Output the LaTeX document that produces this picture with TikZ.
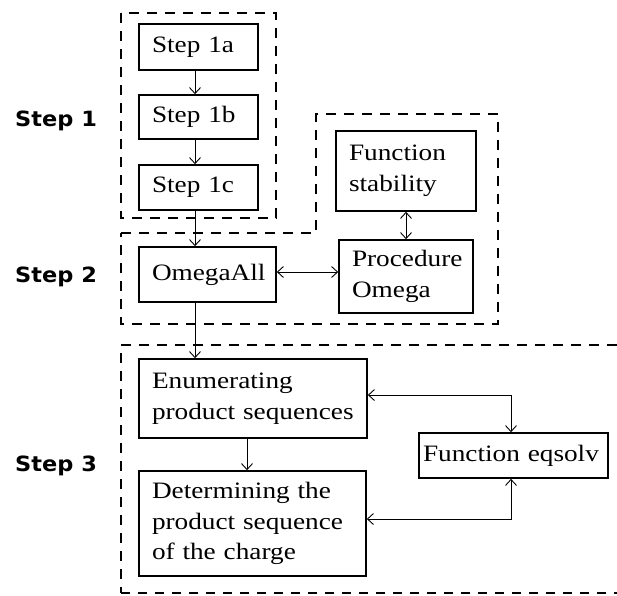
\documentclass[tikz,border=0pt]{standalone}
\usepackage{fontspec}
\usetikzlibrary{arrows.meta,calc}
\newfontfamily\boxfont[FakeStretch=1.16]{Liberation Serif}
\newfontfamily\labfont[FakeStretch=1.07]{DejaVu Sans Bold}
\begin{document}
\begin{tikzpicture}[x=1pt,y=-1pt,
  box/.style={draw, line width=1.6pt, inner xsep=13pt, inner ysep=0pt,
    align=left, font=\boxfont\fontsize{23.5}{30.5}\selectfont},
  steplabel/.style={anchor=base west, inner sep=0pt,
    font=\labfont\fontsize{21}{25}\selectfont},
  region/.style={line width=1.8pt, dash pattern=on 10pt off 8pt},
  thinregion/.style={line width=1.1pt, dash pattern=on 9pt off 8pt},
  arr/.style={line width=1pt, -{Straight Barb[length=6pt,width=11pt,line width=0.9pt]}},
  darr/.style={line width=1pt, {Straight Barb[length=6pt,width=11pt,line width=0.9pt]}-{Straight Barb[length=6pt,width=11pt,line width=0.9pt]}}
]
\useasboundingbox (0,0) rectangle (617,595);
\fill[white] (0,0) rectangle (617,595);

% dashed regions
\draw[region] (121,13) rectangle (276,218);
\draw[region] (121,233) -- (316,233) -- (316,114) -- (498,114) -- (498,324) -- (121,324) -- cycle;
\draw[region] (617,345) -- (121,345) -- (121,593);
\draw[thinregion] (121,593) -- (617,593);

% step labels
\node[steplabel] (l1) at (15,126) {Step 1};
\node[steplabel] (l2) at (15,282) {Step 2};
\node[steplabel] (l3) at (15,471) {Step 3};

% boxes
\node[box, text width=93pt, minimum height=46pt] (s1a) at (198.5,47) {Step 1a};
\node[box, text width=93pt, minimum height=44pt] (s1b) at (198.5,117) {Step 1b};
\node[box, text width=93pt, minimum height=45pt] (s1c) at (198.5,187.5) {Step 1c};
\node[box, text width=111pt, minimum height=55pt] (omega) at (207.5,274.5) {OmegaAll};
\node[box, text width=114pt, minimum height=80pt] (stab) at (406,171) {Function\\stability};
\node[box, text width=108pt, minimum height=73pt] (proc) at (406,276.5) {Procedure\\Omega};
\node[box, text width=202pt, minimum height=79pt] (enum) at (253,398.5) {\mbox{Enumerating}\\\mbox{product sequences}};
\node[box, text width=201pt, minimum height=105pt] (det) at (252.5,523.5) {\mbox{Determining the}\\\mbox{product sequence}\\\mbox{of the charge}};
\node[box, inner xsep=4pt, text width=181pt, minimum height=45pt] (eqs) at (513.5,455.5) {\mbox{Function eqsolv}};

% connectors
\coordinate (c1) at (195,0);
\coordinate (c2) at (247,0);
\draw[arr] (s1a.south -| c1) -- (s1b.north -| c1);
\draw[arr] (s1b.south -| c1) -- (s1c.north -| c1);
\draw[arr] (s1c.south -| c1) -- (omega.north -| c1);
\draw[arr] (omega.south -| c1) -- (enum.north -| c1);
\draw[darr] ($(omega.east)+(0,-2.5)$) -- ($(omega.east -| proc.west)+(0,-2.5)$);
\draw[darr] (stab.south) -- (proc.north);
\draw[arr] (enum.south -| c2) -- (det.north -| c2);
\draw[darr] ($(enum.east)+(0,-3.5)$) -| ($(eqs.north)+(-2.5,0)$);
\draw[darr] ($(det.east)+(0,-4.5)$) -| ($(eqs.south)+(-2.5,0)$);
\end{tikzpicture}
\end{document}
